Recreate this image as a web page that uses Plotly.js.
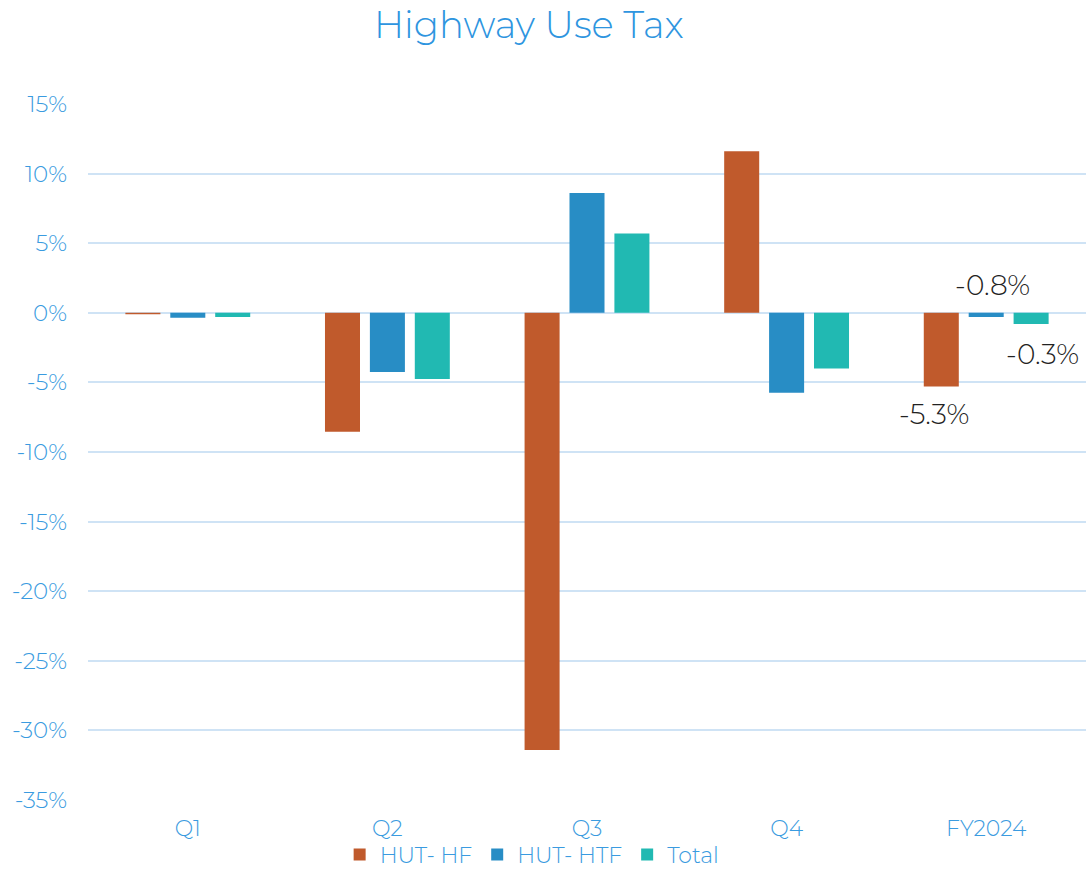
<!DOCTYPE html>
<html>
<head>
<meta charset="utf-8">
<script src="https://cdn.plot.ly/plotly-3.0.1.min.js"></script>
<style>html,body{margin:0;padding:0;background:#fff;}#chart{width:1086px;height:873px;}</style>
</head>
<body>
<div id="chart"></div>
<script>
const categories = ["Q1", "Q2", "Q3", "Q4", "FY2024"];
const hutHF = [-0.1, -8.55, -31.4, 11.6, -5.3];
const hutHTF = [-0.35, -4.25, 8.6, -5.75, -0.3];
const total = [-0.3, -4.75, 5.7, -4.0, -0.8];
const seriesNames = ["HUT- HF", "HUT- HTF", "Total"];
const fyLabels = ["-5.3%", "-0.8%", "-0.3%"];
const tickVals = [15, 10, 5, 0, -5, -10, -15, -20, -25, -30, -35];
const tickText = tickVals.map(v => v + "%");

const colors = ["#C05A2C", "#288DC5", "#21B9B2"];
const font = "Montserrat, 'DejaVu Sans', 'Noto Sans', sans-serif";

const traces = [hutHF, hutHTF, total].map((vals, i) => ({
  type: "bar",
  name: seriesNames[i],
  x: categories,
  y: vals,
  marker: {color: colors[i]},
  hoverinfo: "none"
}));

const last = categories.length - 1;
const annotations = [
  {x: categories[last], y: hutHF[last], text: fyLabels[0], xshift: -52, yshift: -27},
  {x: categories[last], y: hutHTF[last], text: fyLabels[1], xshift: 6, yshift: 32},
  {x: categories[last], y: total[last], text: fyLabels[2], xshift: 56, yshift: -30}
].map(a => Object.assign({xref: "x", yref: "y", showarrow: false,
  font: {family: font, size: 28, weight: 300, color: "#222222"}}, a));

const layout = {
  width: 1086, height: 873,
  margin: {l: 88, r: 0, t: 104, b: 73},
  paper_bgcolor: "#ffffff",
  plot_bgcolor: "#ffffff",
  title: {text: "Highway Use Tax", x: 0.487, xanchor: "center", y: 0.971, yanchor: "middle",
    font: {family: font, size: 37, weight: 300, color: "#2E95DF"}},
  barmode: "group",
  bargap: 0.325,
  bargroupgap: 0.22,
  xaxis: {
    tickfont: {family: font, size: 22, weight: 300, color: "#3A9BE0"},
    showgrid: false, zeroline: false, showline: false, ticks: "",
    ticklabelstandoff: 13, automargin: false
  },
  yaxis: {
    range: [-35, 15],
    tickvals: tickVals, ticktext: tickText,
    tickfont: {family: font, size: 23, weight: 300, color: "#3A9BE0"},
    gridcolor: "#CFE3F5", gridwidth: 2,
    zeroline: true, zerolinecolor: "#CFE3F5", zerolinewidth: 2,
    showline: false, ticks: "", ticklen: 0,
    ticklabelstandoff: 20, automargin: false
  },
  legend: {orientation: "h", x: 0.49, xanchor: "center", xref: "container",
    y: 0.021, yanchor: "middle", yref: "container",
    bgcolor: "rgba(0,0,0,0)", borderwidth: 0,
    font: {family: font, size: 22, weight: 300, color: "#3A9BE0"}, itemwidth: 30, traceorder: "normal"},
  annotations: annotations,
  showlegend: true
};

Plotly.newPlot("chart", traces, layout, {displayModeBar: false, staticPlot: true});
</script>
</body>
</html>
